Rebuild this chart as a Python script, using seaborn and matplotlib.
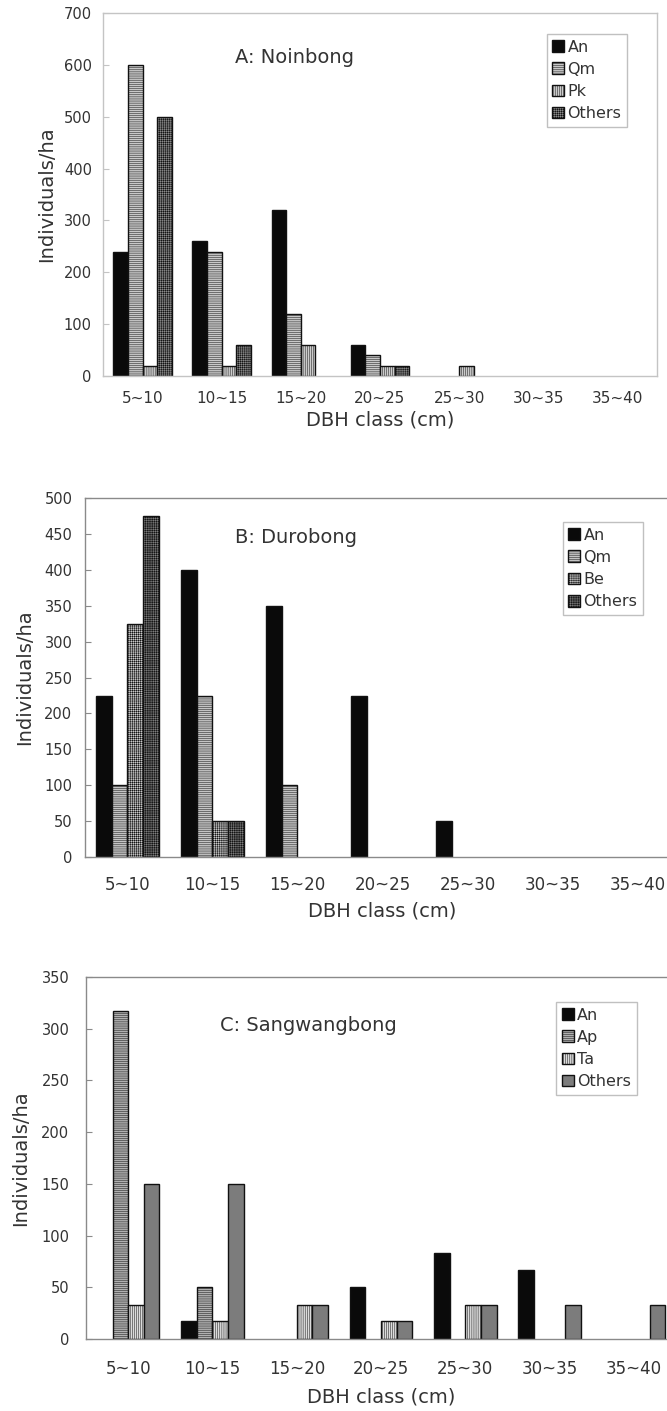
import numpy as np
import pandas as pd
import seaborn as sns
import matplotlib.pyplot as plt
from matplotlib.patches import Patch

sns.set_style('white')
plt.rcParams['font.family'] = ['DejaVu Sans']
plt.rcParams['hatch.linewidth'] = 0.35

# DBH classes shared by all three panels
dbh_classes = ['5~10', '10~15', '15~20', '20~25', '25~30', '30~35', '35~40']

# A: Noinbong
species_a = ['An', 'Qm', 'Pk', 'Others']
an_a = [240, 260, 320, 60, 0, 0, 0]
qm_a = [600, 240, 120, 40, 0, 0, 0]
pk_a = [20, 20, 60, 20, 20, 0, 0]
oth_a = [500, 60, 0, 20, 0, 0, 0]

# B: Durobong
species_b = ['An', 'Qm', 'Be', 'Others']
an_b = [225, 400, 350, 225, 50, 0, 0]
qm_b = [100, 225, 100, 0, 0, 0, 0]
be_b = [325, 50, 0, 0, 0, 0, 0]
oth_b = [475, 50, 0, 0, 0, 0, 0]

# C: Sangwangbong
species_c = ['An', 'Ap', 'Ta', 'Others']
an_c = [0, 17, 0, 50, 83, 67, 0]
ap_c = [317, 50, 0, 0, 0, 0, 0]
ta_c = [33, 17, 33, 17, 33, 0, 0]
oth_c = [150, 150, 33, 17, 33, 33, 33]


def to_long(species, series):
    rows = []
    for sp, vals in zip(species, series):
        for c, v in zip(dbh_classes, vals):
            rows.append({'dbh': c, 'species': sp, 'value': v})
    return pd.DataFrame(rows)


panels = [
    dict(title='A: Noinbong', species=species_a, series=[an_a, qm_a, pk_a, oth_a],
         styles=[('#0a0a0a', ''), ('#c8c8c8', '--------'), ('#cccccc', '||||||||'), ('#8a8a8a', '++++++++')],
         pos=[0.1544, 0.7335, 0.8306, 0.2573], ymax=700, ystep=100,
         spine='#c4c4c4', ytick_fs=10.5, xtick_fs=11, xpad=11, ypad=8,
         text_xy=(0.238, 0.876), leg_xy=(0.801, 0.942),
         ylab_x=-0.085, xlab_y=-0.096),
    dict(title='B: Durobong', species=species_b, series=[an_b, qm_b, be_b, oth_b],
         styles=[('#0a0a0a', ''), ('#c4c4c4', '--------'), ('#c8c8c8', '++++++++'), ('#7e7e7e', '+++++++++')],
         pos=[0.1274, 0.3926, 0.892, 0.2544], ymax=500, ystep=50,
         spine='#8a8a8a', ytick_fs=10.5, xtick_fs=12, xpad=14, ypad=9,
         text_xy=(0.252, 0.891), leg_xy=(0.803, 0.933),
         ylab_x=-0.086, xlab_y=-0.123),
    dict(title='C: Sangwangbong', species=species_c, series=[an_c, ap_c, ta_c, oth_c],
         styles=[('#0a0a0a', ''), ('#b0b0b0', '--------'), ('#dcdcdc', '||||||||'), ('#7c7c7c', '')],
         pos=[0.129, 0.0510, 0.8846, 0.2566], ymax=350, ystep=50,
         spine='#8a8a8a', ytick_fs=10.5, xtick_fs=12, xpad=15, ypad=12,
         text_xy=(0.227, 0.867), leg_xy=(0.797, 0.931),
         ylab_x=-0.095, xlab_y=-0.133),
]

fig = plt.figure(figsize=(6.67, 14.11), dpi=100)

for p in panels:
    ax = fig.add_axes(p['pos'])
    df = to_long(p['species'], p['series'])
    colors = [s[0] for s in p['styles']]
    sns.barplot(data=df, x='dbh', y='value', hue='species', order=dbh_classes,
                hue_order=p['species'], palette=colors, width=0.74, saturation=1,
                edgecolor='#111111', linewidth=1.0, legend=False, ax=ax)

    for cont, (fc, hatch) in zip(ax.containers, p['styles']):
        for bar in cont:
            bar.set_hatch(hatch)
            if bar.get_height() == 0:
                bar.set_visible(False)

    ax.set_xlim(-0.5, len(dbh_classes) - 0.5)
    ax.set_ylim(0, p['ymax'])
    ax.set_yticks(np.arange(0, p['ymax'] + 1, p['ystep']))
    ax.set_xticks(np.arange(0.5, len(dbh_classes) - 0.5, 1), minor=True)
    ax.tick_params(axis='x', which='major', length=0, pad=p['xpad'],
                   labelsize=p['xtick_fs'], labelcolor='#333333')
    ax.tick_params(axis='x', which='minor', direction='in', length=5,
                   color=p['spine'], width=0.8)
    ax.tick_params(axis='y', direction='in', length=4, color=p['spine'], width=0.8,
                   left=True, pad=p['ypad'], labelsize=p['ytick_fs'], labelcolor='#333333')

    for side in ['top', 'right', 'left', 'bottom']:
        ax.spines[side].set_visible(True)
        ax.spines[side].set_color(p['spine'])
        ax.spines[side].set_linewidth(1.0)

    ax.set_ylabel('Individuals/ha', fontsize=14, color='#333333')
    ax.set_xlabel('DBH class (cm)', fontsize=14, color='#333333')
    ax.yaxis.set_label_coords(p['ylab_x'], 0.5)
    ax.xaxis.set_label_coords(0.5, p['xlab_y'])

    ax.text(p['text_xy'][0], p['text_xy'][1], p['title'], transform=ax.transAxes,
            ha='left', va='center', fontsize=14, color='#333333')

    handles = [Patch(facecolor=fc, hatch=h, edgecolor='#111111', linewidth=1.0)
               for fc, h in p['styles']]
    leg = ax.legend(handles, p['species'], loc='upper left',
                    bbox_to_anchor=p['leg_xy'], fontsize=11.5, frameon=True,
                    fancybox=False, framealpha=1, edgecolor='#c0c0c0',
                    handlelength=0.75, handleheight=0.75, handletextpad=0.2,
                    labelspacing=0.45, borderpad=0.35, borderaxespad=0)
    leg.get_frame().set_linewidth(1.0)
    for t in leg.get_texts():
        t.set_color('#333333')

fig.savefig('out.png', dpi=100)
